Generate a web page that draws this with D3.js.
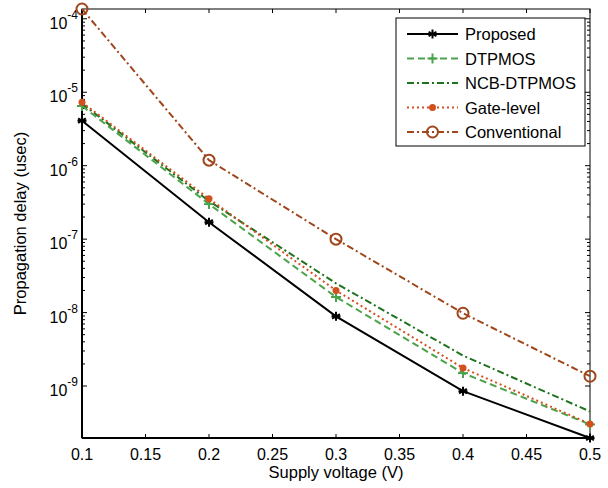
<!DOCTYPE html>
<html>
<head>
<meta charset="utf-8">
<script src="https://cdn.jsdelivr.net/npm/d3@7"></script>
<style>
body { margin: 0; background: #fff; }
text { font-family: "Liberation Sans", Arial, sans-serif; fill: #000; }
</style>
</head>
<body>
<svg id="chart" width="608" height="488"></svg>
<script>
// values
const voltages = [0.1, 0.2, 0.3, 0.4, 0.5];
const proposed = [4.1e-6, 1.7e-7, 8.9e-9, 8.5e-10, 1.96e-10];
const dtpmos = [6.5e-6, 3.0e-7, 1.63e-8, 1.5e-9, 3.0e-10];
const ncbDtpmos = [7.0e-6, 3.3e-7, 2.5e-8, 2.6e-9, 4.5e-10];
const gateLevel = [7.3e-6, 3.55e-7, 2.0e-8, 1.76e-9, 3.05e-10];
const conventional = [1.36e-4, 1.19e-6, 1.0e-7, 9.8e-9, 1.36e-9];
const xTicks = [0.1, 0.15, 0.2, 0.25, 0.3, 0.35, 0.4, 0.45, 0.5];
const yExponents = [-9, -8, -7, -6, -5, -4];

const series = [
  {name: 'Proposed', values: proposed, color: '#000000', dash: null, marker: 'star'},
  {name: 'DTPMOS', values: dtpmos, color: '#4ba34b', dash: '7,4', marker: 'plus'},
  {name: 'NCB-DTPMOS', values: ncbDtpmos, color: '#1d731d', dash: '7,3,2,3', marker: null},
  {name: 'Gate-level', values: gateLevel, color: '#d24f1e', dash: '2,3', marker: 'dot'},
  {name: 'Conventional', values: conventional, color: '#a0461c', dash: '7,3,2,3', marker: 'circle'}
];

const svg = d3.select('#chart');
const margin = {top: 9, right: 18, bottom: 50, left: 82};
const width = +svg.attr('width') - margin.left - margin.right;
const height = +svg.attr('height') - margin.top - margin.bottom;

const allVals = series.flatMap(s => s.values);
const x = d3.scaleLinear().domain(d3.extent(voltages)).range([0, width]);
const y = d3.scaleLog().domain(d3.extent(allVals)).range([height, 0]);

const g = svg.append('g').attr('transform', 'translate(' + margin.left + ',' + margin.top + ')');

// x ticks (inward, top and bottom)
const xt = g.append('g');
xTicks.forEach(t => {
  xt.append('line').attr('x1', x(t)).attr('x2', x(t)).attr('y1', height).attr('y2', height - 4)
    .attr('stroke', '#000');
  xt.append('line').attr('x1', x(t)).attr('x2', x(t)).attr('y1', 0).attr('y2', 4)
    .attr('stroke', '#000');
  xt.append('text').attr('x', x(t)).attr('y', height + 22)
    .style('text-anchor', 'middle').style('font-size', '16px')
    .text(d3.format('')(t));
});

// y ticks, log decades with minor ticks
const yt = g.append('g');
const [lo, hi] = y.domain();
yExponents.forEach(e => {
  for (let m = 1; m < 10; m++) {
    const v = m * Math.pow(10, e);
    if (v < lo || v > hi) continue;
    const len = m === 1 ? 5 : 3;
    yt.append('line').attr('x1', 0).attr('x2', len).attr('y1', y(v)).attr('y2', y(v)).attr('stroke', '#000');
    yt.append('line').attr('x1', width).attr('x2', width - len).attr('y1', y(v)).attr('y2', y(v)).attr('stroke', '#000');
  }
  const lab = yt.append('text').attr('x', -4).attr('y', y(Math.pow(10, e)) + 10)
    .style('text-anchor', 'end').style('font-size', '16px');
  lab.append('tspan').text('10');
  lab.append('tspan').attr('dy', -10).style('font-size', '12px').text(e);
});

// frame
g.append('rect').attr('width', width).attr('height', height)
  .attr('fill', 'none').attr('stroke', '#000').attr('stroke-width', 1);
g.append('line').attr('x1', 0).attr('x2', 0).attr('y1', 0).attr('y2', height)
  .attr('stroke', '#000').attr('stroke-width', 2);
g.append('line').attr('x1', 0).attr('x2', width).attr('y1', height).attr('y2', height)
  .attr('stroke', '#000').attr('stroke-width', 2);

function drawMarker(sel, type, color, cx, cy) {
  if (type === 'star') {
    const r = 4.5;
    [0, 60, 120].forEach(a => {
      const rad = a * Math.PI / 180;
      sel.append('line').attr('x1', cx - r * Math.sin(rad)).attr('y1', cy - r * Math.cos(rad))
        .attr('x2', cx + r * Math.sin(rad)).attr('y2', cy + r * Math.cos(rad))
        .attr('stroke', color).attr('stroke-width', 2);
    });
    sel.append('line').attr('x1', cx - r).attr('x2', cx + r).attr('y1', cy).attr('y2', cy)
      .attr('stroke', color).attr('stroke-width', 2);
  } else if (type === 'plus') {
    const r = 5;
    sel.append('line').attr('x1', cx - r).attr('x2', cx + r).attr('y1', cy).attr('y2', cy)
      .attr('stroke', color).attr('stroke-width', 2);
    sel.append('line').attr('x1', cx).attr('x2', cx).attr('y1', cy - r).attr('y2', cy + r)
      .attr('stroke', color).attr('stroke-width', 2);
  } else if (type === 'dot') {
    sel.append('circle').attr('cx', cx).attr('cy', cy).attr('r', 3.5).attr('fill', color);
  } else if (type === 'circle') {
    sel.append('circle').attr('cx', cx).attr('cy', cy).attr('r', 5.5)
      .attr('fill', 'none').attr('stroke', color).attr('stroke-width', 2);
  }
}

const line = d3.line().x(d => x(d[0])).y(d => y(d[1]));
const plot = g.append('g');
series.forEach(s => {
  const pts = voltages.map((v, i) => [v, s.values[i]]);
  plot.append('path').attr('d', line(pts))
    .attr('fill', 'none').attr('stroke', s.color).attr('stroke-width', 2)
    .attr('stroke-dasharray', s.dash);
  if (s.marker) {
    const mg = plot.append('g');
    pts.forEach(p => drawMarker(mg, s.marker, s.color, x(p[0]), y(p[1])));
  }
});

// axis titles
svg.append('text').attr('x', margin.left + width / 2).attr('y', 478)
  .style('text-anchor', 'middle').style('font-size', '16.5px').text('Supply voltage (V)');
svg.append('text').attr('transform', 'translate(26,' + (margin.top + height / 2) + ') rotate(-90)')
  .style('text-anchor', 'middle').style('font-size', '16.5px').text('Propagation delay (usec)');

// legend
const legend = svg.append('g').attr('transform', 'translate(396,18)');
legend.append('rect').attr('width', 189).attr('height', 128)
  .attr('fill', '#fff').attr('stroke', '#000').attr('stroke-width', 1);
series.forEach((s, i) => {
  const ly = 16 + i * 24.5;
  legend.append('line').attr('x1', 11).attr('x2', 62).attr('y1', ly).attr('y2', ly)
    .attr('stroke', s.color).attr('stroke-width', 2).attr('stroke-dasharray', s.dash);
  if (s.marker) drawMarker(legend, s.marker, s.color, 36.5, ly);
  legend.append('text').attr('x', 69).attr('y', ly + 6).style('font-size', '16.5px').text(s.name);
});
</script>
</body>
</html>
